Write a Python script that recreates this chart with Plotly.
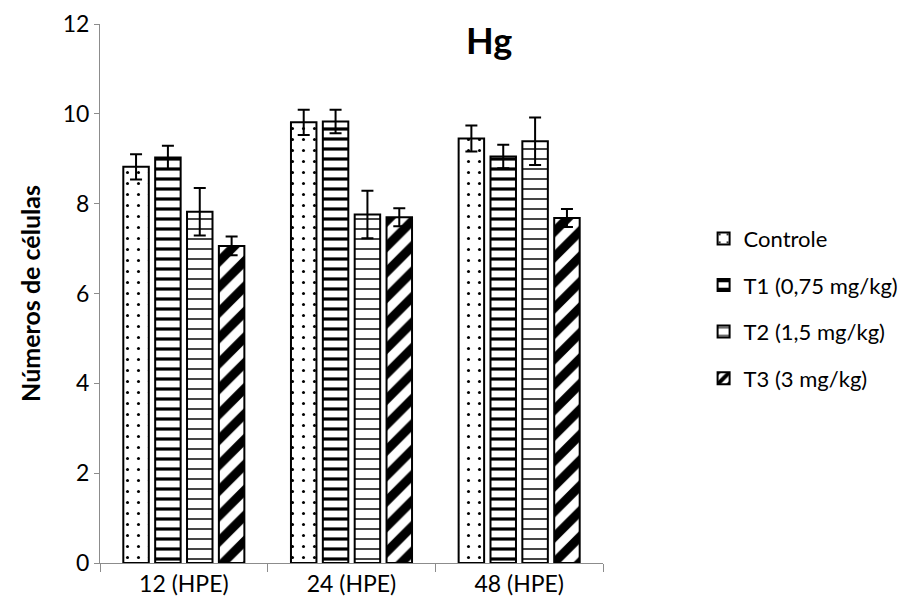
import plotly.graph_objects as go

categories = ["12 (HPE)", "24 (HPE)", "48 (HPE)"]
series_names = ["Controle", "T1 (0,75 mg/kg)", "T2 (1,5 mg/kg)", "T3 (3 mg/kg)"]
controle = [8.82, 9.81, 9.45]
t1 = [9.03, 9.83, 9.05]
t2 = [7.82, 7.76, 9.39]
t3 = [7.06, 7.70, 7.68]
err_controle = [0.28, 0.28, 0.29]
err_t1 = [0.26, 0.26, 0.26]
err_t2 = [0.53, 0.53, 0.53]
err_t3 = [0.21, 0.20, 0.20]
y_ticks = [0, 2, 4, 6, 8, 10, 12]

values = [controle, t1, t2, t3]
errors = [err_controle, err_t1, err_t2, err_t3]
patterns = [
    dict(shape=".", size=11, solidity=0.06, fgcolor="black", bgcolor="white", fgopacity=1),
    dict(shape="-", size=10, solidity=0.32, fgcolor="black", bgcolor="white", fgopacity=1),
    dict(shape="-", size=10, solidity=0.2, fgcolor="#444444", bgcolor="white", fgopacity=1),
    dict(shape="/", size=18, solidity=0.5, fgcolor="black", bgcolor="white", fgopacity=1),
]

fig = go.Figure()
for i, name in enumerate(series_names):
    fig.add_trace(go.Bar(
        x=categories, y=values[i], name=name,
        legendgroup=name,
        marker=dict(color="white", line=dict(color="black", width=2),
                    pattern=patterns[i]),
        error_y=dict(type="data", array=errors[i], color="black",
                     thickness=2, width=6),
    ))

fig.update_layout(
    width=913, height=608,
    paper_bgcolor="white", plot_bgcolor="white",
    margin=dict(l=92, r=318, t=16, b=53, autoexpand=False),
    font=dict(family="Lato", size=24, color="black"),
    barmode="group", bargap=0.24, bargroupgap=0.2,
    title=dict(text="<b>Hg</b>", x=0.527, xanchor="center", y=0.945,
               yanchor="middle", font=dict(size=36, family="Lato")),
    legend=dict(x=1.2, xanchor="left", y=0.472, yanchor="middle",
                font=dict(size=22), tracegroupgap=15, traceorder="grouped",
                itemwidth=30),
    showlegend=True,
)
fig.update_yaxes(range=[0, 12], tickvals=y_ticks, showgrid=False,
                 showline=True, linecolor="#8c8c8c", linewidth=1,
                 ticks="outside", ticklen=5, tickcolor="#8c8c8c",
                 tickfont=dict(size=23), automargin=False,
                 ticklabeloverflow="allow",
                 title=dict(text="<b>Números de células</b>",
                            font=dict(size=25), standoff=14),
                 zeroline=False)
fig.update_xaxes(showgrid=False, showline=True, linecolor="#8c8c8c",
                 linewidth=1, ticks="outside", ticklen=8, automargin=False,
                 tickcolor="#8c8c8c", tickson="boundaries",
                 ticklabeloverflow="allow",
                 tickfont=dict(size=23))

fig.write_html("out.html")
